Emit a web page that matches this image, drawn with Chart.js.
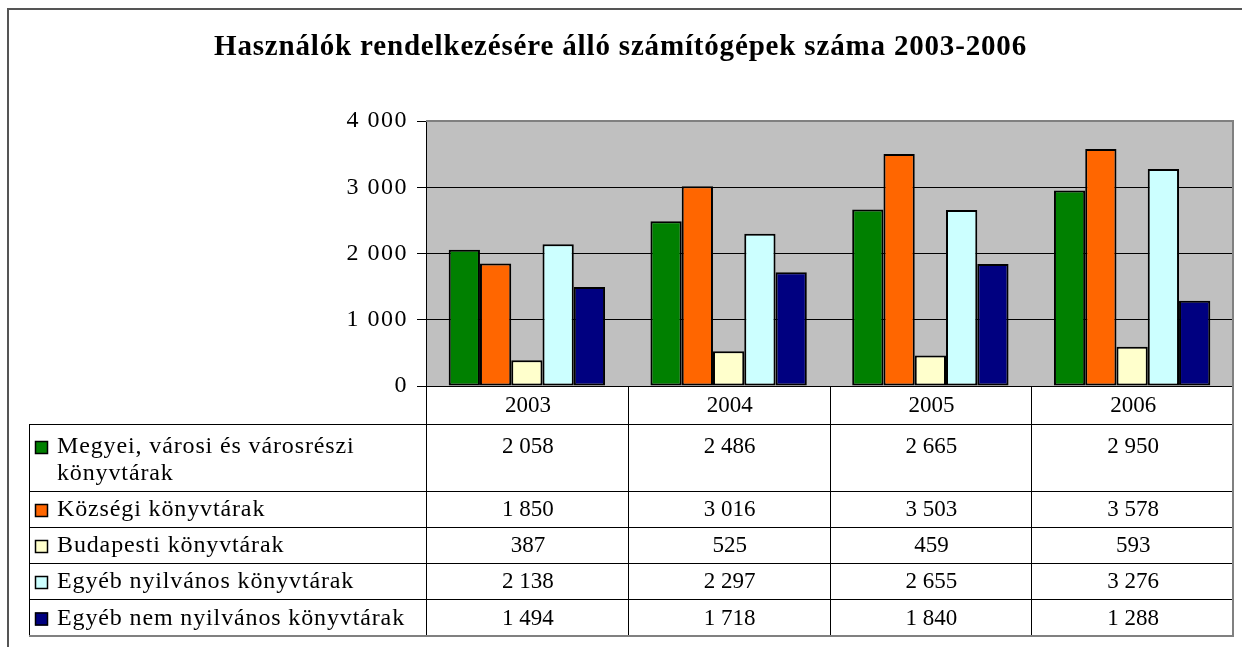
<!DOCTYPE html>
<html>
<head>
<meta charset="utf-8">
<script src="https://cdn.jsdelivr.net/npm/chart.js@4.4.0/dist/chart.umd.min.js"></script>
<style>
  html, body { margin: 0; padding: 0; background: #fff; }
</style>
</head>
<body>
<canvas id="computersChart" width="1242" height="647"></canvas>
<script>
// Chart data
const chartTitle = 'Használók rendelkezésére álló számítógépek száma 2003-2006';
const years = ['2003', '2004', '2005', '2006'];
const seriesLabels = [
  ['Megyei, városi és városrészi', 'könyvtárak'],
  ['Községi könyvtárak'],
  ['Budapesti könyvtárak'],
  ['Egyéb nyilvános könyvtárak'],
  ['Egyéb nem nyilvános könyvtárak']
];
const megyei = [2058, 2486, 2665, 2950];
const kozsegi = [1850, 3016, 3503, 3578];
const budapesti = [387, 525, 459, 593];
const egyebNyilvanos = [2138, 2297, 2655, 3276];
const egyebNemNyilvanos = [1494, 1718, 1840, 1288];
const yTicks = [0, 1000, 2000, 3000, 4000];
const seriesColors = ['#008000', '#FF6600', '#FFFFCC', '#CCFFFF', '#000080'];

const seriesValues = [megyei, kozsegi, budapesti, egyebNyilvanos, egyebNemNyilvanos];
const serif = '"Liberation Serif", "Times New Roman", serif';

// "2058" -> "2 058"
function fmt(v) {
  return String(v).replace(/\B(?=(\d{3})+(?!\d))/g, ' ');
}

// Excel-ish layout of the data table under the plot
const headerBottom = 424;
const rowHeights = [67, 36, 36, 36, 37];
const tableLeft = 29;

// spacing that makes text fill a given width
function spacingFor(ctx, text, width) {
  ctx.letterSpacing = '0px';
  return Math.max(0, (width - ctx.measureText(text).width) / text.length);
}

const excelPlugin = {
  id: 'excelLook',
  beforeDraw(chart) {
    const { ctx, chartArea } = chart;
    ctx.save();
    ctx.fillStyle = '#fff';
    ctx.fillRect(0, 0, chart.width, chart.height);
    ctx.fillStyle = '#C0C0C0';
    ctx.fillRect(chartArea.left, chartArea.top, chartArea.right - chartArea.left, chartArea.bottom - chartArea.top);
    ctx.restore();
    // wide tick labels like the original
    ctx.letterSpacing = '1.5px';
  },
  afterDatasetsDraw(chart) {
    const { ctx, chartArea } = chart;
    ctx.save();
    ctx.strokeStyle = '#808080';
    ctx.lineWidth = 2;
    ctx.beginPath();
    ctx.moveTo(chartArea.left, chartArea.top);
    ctx.lineTo(chartArea.right, chartArea.top);
    ctx.lineTo(chartArea.right, chartArea.bottom);
    ctx.stroke();
    ctx.restore();
  },
  afterDraw(chart) {
    const { ctx, chartArea } = chart;
    const xScale = chart.scales.x;
    const colW = (xScale.right - xScale.left) / years.length;
    ctx.save();

    // outer frame (only top and left are inside the picture)
    ctx.strokeStyle = '#555';
    ctx.lineWidth = 2;
    ctx.beginPath();
    ctx.moveTo(8, chart.height);
    ctx.lineTo(8, 9);
    ctx.lineTo(chart.width, 9);
    ctx.stroke();

    // title
    ctx.font = 'bold 29px ' + serif;
    ctx.letterSpacing = spacingFor(ctx, chartTitle, 813) + 'px';
    ctx.fillStyle = '#000';
    ctx.textAlign = 'left';
    ctx.textBaseline = 'alphabetic';
    ctx.fillText(chartTitle, 214, 55);

    // table rows
    const rowTops = [headerBottom];
    rowHeights.forEach((h, i) => rowTops.push(rowTops[i] + h));
    const tableBottom = rowTops[rowTops.length - 1];

    ctx.letterSpacing = '0px';
    ctx.strokeStyle = '#000';
    ctx.lineWidth = 1;
    ctx.beginPath();
    for (let i = 0; i < rowTops.length - 1; i++) {
      ctx.moveTo(tableLeft, rowTops[i] + 0.5);
      ctx.lineTo(xScale.right, rowTops[i] + 0.5);
    }
    ctx.moveTo(tableLeft + 0.5, headerBottom);
    ctx.lineTo(tableLeft + 0.5, tableBottom);
    for (let i = 0; i < years.length; i++) {
      const xx = Math.round(xScale.left + i * colW) + 0.5;
      ctx.moveTo(xx, chartArea.bottom);
      ctx.lineTo(xx, tableBottom);
    }
    ctx.stroke();

    ctx.strokeStyle = '#808080';
    ctx.lineWidth = 2;
    ctx.beginPath();
    ctx.moveTo(xScale.right, chartArea.bottom);
    ctx.lineTo(xScale.right, tableBottom);
    ctx.lineTo(tableLeft, tableBottom);
    ctx.stroke();

    // year header
    ctx.fillStyle = '#000';
    ctx.font = '23px ' + serif;
    ctx.letterSpacing = '0px';
    ctx.textAlign = 'center';
    ctx.textBaseline = 'middle';
    years.forEach((y, i) => {
      ctx.fillText(y, xScale.getPixelForValue(i) + 1, (chartArea.bottom + headerBottom) / 2 + 1);
    });

    // legend column
    const legendFont = '24px ' + serif;
    ctx.font = legendFont;
    const legendSpacing = spacingFor(ctx, seriesLabels[4][0], 348);
    seriesLabels.forEach((lines, r) => {
      const firstY = lines.length > 1 ? rowTops[r] + 23 : (rowTops[r] + rowTops[r + 1]) / 2 + 1;
      // colour key
      ctx.fillStyle = seriesColors[r];
      ctx.fillRect(35, firstY - 6, 13, 13);
      ctx.strokeStyle = '#000';
      ctx.lineWidth = 1.5;
      ctx.strokeRect(35.5, firstY - 5.5, 12, 12);

      ctx.fillStyle = '#000';
      ctx.font = legendFont;
      ctx.letterSpacing = legendSpacing + 'px';
      ctx.textAlign = 'left';
      lines.forEach((t, k) => ctx.fillText(t, 57, firstY + k * 27));

      ctx.font = '23px ' + serif;
      ctx.letterSpacing = '0px';
      ctx.textAlign = 'center';
      seriesValues[r].forEach((v, i) => {
        ctx.fillText(fmt(v), xScale.getPixelForValue(i) + 1, firstY);
      });
    });

    ctx.restore();
    ctx.letterSpacing = '0px';
  }
};

const ctx = document.getElementById('computersChart').getContext('2d');
new Chart(ctx, {
  type: 'bar',
  data: {
    labels: years,
    datasets: seriesValues.map((vals, i) => ({
      label: seriesLabels[i].join(' '),
      data: vals,
      backgroundColor: seriesColors[i],
      borderColor: '#000',
      borderWidth: 2,
      borderSkipped: false,
      categoryPercentage: 0.775,
      barPercentage: 1,
    })),
  },
  options: {
    responsive: false,
    animation: false,
    layout: {
      padding: { top: 121, right: 9, bottom: 11, left: 0 },
    },
    scales: {
      x: {
        grid: { display: false },
        border: { display: false },
        ticks: { display: false },
        afterFit: (scale) => { scale.height = 250; },
      },
      y: {
        min: 0,
        max: 4000,
        afterBuildTicks: (scale) => { scale.ticks = yTicks.map(v => ({ value: v })); },
        ticks: {
          color: '#000',
          padding: 9,
          font: { family: serif, size: 24 },
          callback: (v) => fmt(v),
        },
        grid: {
          color: '#000',
          lineWidth: 1,
          tickLength: 9,
        },
        border: { color: '#000', width: 1 },
        afterFit: (scale) => { scale.width = 426; },
      },
    },
    plugins: {
      legend: { display: false },
      title: { display: false },
      tooltip: { enabled: false },
    },
  },
  plugins: [excelPlugin],
});
</script>
</body>
</html>
